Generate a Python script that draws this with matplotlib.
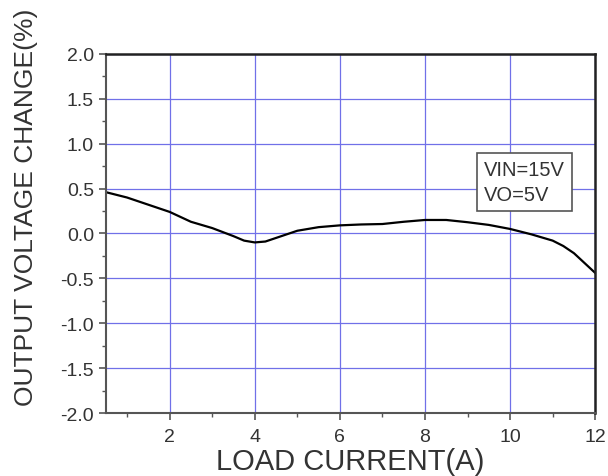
import matplotlib.pyplot as plt
from matplotlib.ticker import MultipleLocator

plt.rcParams['font.family'] = ['Liberation Sans', 'DejaVu Sans']

# values
load_current = [0.5, 1.0, 1.5, 2.0, 2.5, 3.0, 3.5, 3.75, 4.0, 4.25, 4.5, 5.0, 5.5,
                6.0, 6.5, 7.0, 7.5, 8.0, 8.5, 9.0, 9.5, 10.0, 10.5, 11.0,
                11.25, 11.5, 11.75, 12.0]
voltage_change = [0.46, 0.40, 0.32, 0.24, 0.13, 0.06, -0.03, -0.08, -0.10, -0.09,
                  -0.05, 0.03, 0.07, 0.09, 0.10, 0.105, 0.13, 0.15, 0.15, 0.125,
                  0.095, 0.05, -0.01, -0.08, -0.14, -0.22, -0.33, -0.44]
note_lines = ["VIN=15V", "VO=5V"]

fig = plt.figure(figsize=(6.08, 4.77), dpi=100)
ax = fig.add_axes([0.174, 0.132, 0.805, 0.753])

ax.plot(load_current, voltage_change, color='black', linewidth=1.6)

ax.set_xlim(0.5, 12)
ax.set_ylim(-2.0, 2.0)
ax.xaxis.set_major_locator(MultipleLocator(2))
ax.xaxis.set_minor_locator(MultipleLocator(1))
ax.yaxis.set_major_locator(MultipleLocator(0.5))
ax.yaxis.set_minor_locator(MultipleLocator(0.25))
ax.yaxis.set_major_formatter(plt.FormatStrFormatter('%.1f'))

ax.grid(True, which='major', color='#7070e8', linewidth=0.9)
ax.set_axisbelow(True)

for side in ['left', 'bottom']:
    ax.spines[side].set_color('#555555')
    ax.spines[side].set_linewidth(1.5)
for side in ['top', 'right']:
    ax.spines[side].set_color('#222222')
    ax.spines[side].set_linewidth(1.8)

ax.tick_params(which='major', direction='out', length=5, width=1.2,
               color='#555555', labelsize=14, colors='#333333')
ax.tick_params(axis='x', which='major', pad=6)
ax.tick_params(which='minor', direction='out', length=3, width=1.0, color='#555555')

ax.set_xlabel("LOAD CURRENT(A)", fontsize=21, color='#333333')
ax.xaxis.set_label_coords(0.5, -0.095)
ax.set_ylabel("OUTPUT VOLTAGE CHANGE(%)", fontsize=19, color='#333333')
ax.yaxis.set_label_coords(-0.139, 0.576)

ax.text(0.773, 0.705, "\n".join(note_lines), transform=ax.transAxes,
        fontsize=14.5, color='#333333', va='top', ha='left', linespacing=1.4,
        bbox=dict(boxstyle='square,pad=0.35', facecolor='white',
                  edgecolor='#555555', linewidth=1.2))

fig.savefig("out.png", dpi=100)
